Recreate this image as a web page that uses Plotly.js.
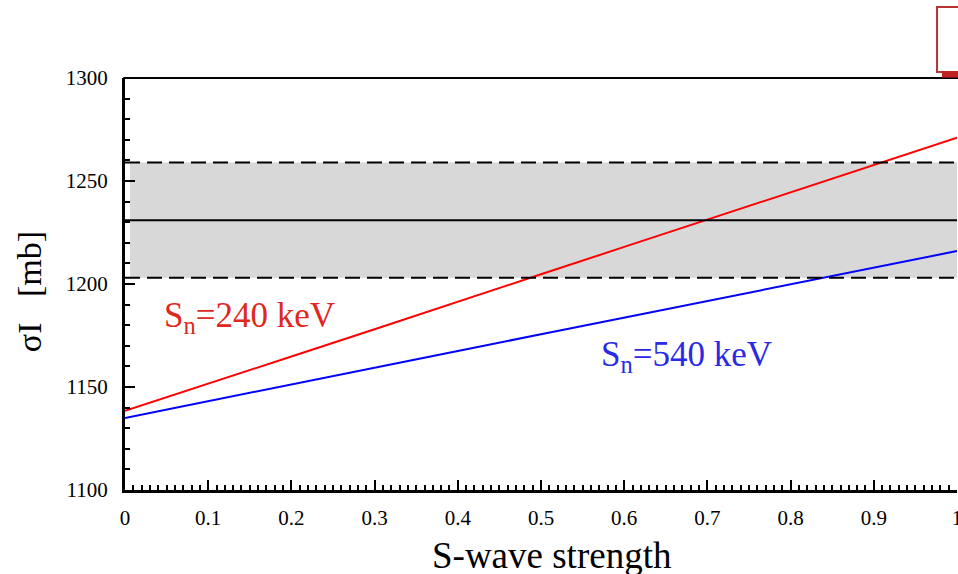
<!DOCTYPE html>
<html>
<head>
<meta charset="utf-8">
<script src="https://cdn.plot.ly/plotly-3.0.1.min.js"></script>
<style>html,body{margin:0;padding:0;background:#fff;overflow:hidden}#chart{width:958px;height:574px}</style>
</head>
<body>
<div id="chart"></div>
<script>
// S-wave strength
const swave = [0, 0.1, 0.2, 0.3, 0.4, 0.5, 0.6, 0.7, 0.8, 0.9, 1.0];
// sigma_I [mb] for S_n = 240 keV
const sigma240 = [1138.5, 1151.5, 1164.8, 1178.0, 1191.5, 1204.7, 1218.0, 1231.3, 1244.5, 1257.7, 1271.0];
// sigma_I [mb] for S_n = 540 keV
const sigma540 = [1135.0, 1143.2, 1151.3, 1159.4, 1167.5, 1175.6, 1183.7, 1191.8, 1199.9, 1208.0, 1216.0];
// experimental value and its error band
const expCentral = 1231;
const expUpper = 1259;
const expLower = 1203;
const xTicks = [0, 0.1, 0.2, 0.3, 0.4, 0.5, 0.6, 0.7, 0.8, 0.9, 1];
const xTickLabels = ['0', '0.1', '0.2', '0.3', '0.4', '0.5', '0.6', '0.7', '0.8', '0.9', '1'];
const yTicks = [1100, 1150, 1200, 1250, 1300];
const yTickLabels = ['1100', '1150', '1200', '1250', '1300'];
const xTitle = 'S-wave strength';
const yTitle = 'σI\u00a0\u00a0\u00a0[mb]';

const FONT = '"Liberation Serif", "Times New Roman", serif';

const traces = [
  {x: swave, y: sigma240, mode: 'lines', line: {color: '#ff0000', width: 2}, showlegend: false, hoverinfo: 'skip'},
  {x: swave, y: sigma540, mode: 'lines', line: {color: '#0000ff', width: 2}, showlegend: false, hoverinfo: 'skip'}
];

const shapes = [
  {type: 'rect', xref: 'x', yref: 'y', x0: 0.006, x1: 1.01, y0: expLower, y1: expUpper,
   fillcolor: '#d8d8d8', line: {width: 0}, layer: 'below'},
  {type: 'line', xref: 'x', yref: 'y', x0: 0, x1: 1.01, y0: expUpper, y1: expUpper,
   line: {color: '#000', width: 2, dash: '15px,7px'}},
  {type: 'line', xref: 'x', yref: 'y', x0: 0, x1: 1.01, y0: expLower, y1: expLower,
   line: {color: '#000', width: 2, dash: '15px,7px'}},
  {type: 'line', xref: 'x', yref: 'y', x0: 0, x1: 1.01, y0: expCentral, y1: expCentral,
   line: {color: '#000', width: 2}},
  // top frame line
  {type: 'line', xref: 'paper', yref: 'paper', x0: -0.002, x1: 1.01, y0: 1.0, y1: 1.0,
   line: {color: '#000', width: 2}},
  // clipped box at top right
  {type: 'rect', xref: 'paper', yref: 'paper', x0: 0.976, x1: 1.01, y0: 1.0146, y1: 1.1723,
   fillcolor: 'rgba(0,0,0,0)', line: {color: '#b83232', width: 2}},
  {type: 'rect', xref: 'paper', yref: 'paper', x0: 0.982, x1: 1.01, y0: 1.001, y1: 1.017,
   fillcolor: '#c02222', line: {width: 0}}
];

const annotations = [
  {x: 0.045, y: 1183.5, xref: 'x', yref: 'y', xanchor: 'left', yanchor: 'middle',
   text: 'S<sub>n</sub>=240 keV', showarrow: false, font: {family: FONT, size: 35, color: '#e0281e'}},
  {x: 0.57, y: 1164.6, xref: 'x', yref: 'y', xanchor: 'left', yanchor: 'middle',
   text: 'S<sub>n</sub>=540 keV', showarrow: false, font: {family: FONT, size: 35, color: '#2a2ae6'}},
  {x: 0.513, y: -0.158, xref: 'paper', yref: 'paper', xanchor: 'center', yanchor: 'middle',
   text: xTitle, showarrow: false, font: {family: FONT, size: 37, color: '#000'}},
  {x: -0.114, y: 0.4806, xref: 'paper', yref: 'paper', xanchor: 'center', yanchor: 'middle',
   textangle: -90, text: yTitle, showarrow: false, font: {family: FONT, size: 34, color: '#000'}}
];

const layout = {
  width: 958, height: 574,
  margin: {l: 125, r: 1, t: 78, b: 84, pad: 0},
  paper_bgcolor: '#fff', plot_bgcolor: '#fff',
  font: {family: FONT, color: '#000'},
  showlegend: false,
  xaxis: {
    range: [0, 1.0], tickvals: xTicks, ticktext: xTickLabels,
    showgrid: false, zeroline: false, showline: true, linecolor: '#000', linewidth: 3,
    ticks: 'inside', ticklen: 10, tickwidth: 2, tickcolor: '#000',
    minor: {dtick: 0.01, ticks: 'inside', ticklen: 5, tickwidth: 2, tickcolor: '#000', showgrid: false},
    tickfont: {family: FONT, size: 21, color: '#000'},
    ticklabelstandoff: 7,
    ticklabeloverflow: 'allow'
  },
  yaxis: {
    range: [1100, 1300], tickvals: yTicks, ticktext: yTickLabels,
    showgrid: false, zeroline: false, showline: true, linecolor: '#000', linewidth: 3,
    ticks: 'inside', ticklen: 10, tickwidth: 2, tickcolor: '#000',
    minor: {dtick: 10, ticks: 'inside', ticklen: 5, tickwidth: 2, tickcolor: '#000', showgrid: false},
    tickfont: {family: FONT, size: 21, color: '#000'},
    ticklabelstandoff: 10,
    ticklabeloverflow: 'allow'
  },
  shapes: shapes,
  annotations: annotations
};

Plotly.newPlot('chart', traces, layout, {staticPlot: true, displayModeBar: false});
</script>
</body>
</html>
